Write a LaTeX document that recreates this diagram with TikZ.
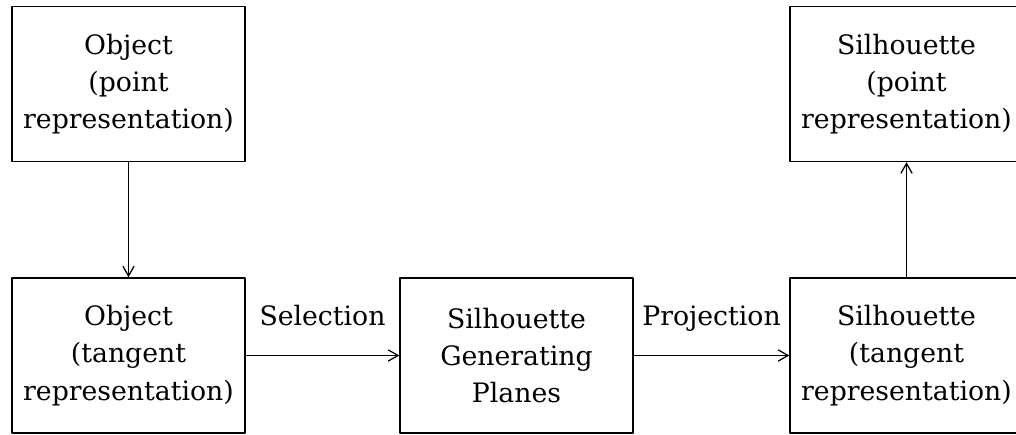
\documentclass[tikz,border=0pt]{standalone}
\usepackage{fontspec}
\setmainfont{DejaVu Serif}
\usetikzlibrary{arrows.meta}
\begin{document}
\begin{tikzpicture}[font=\fontsize{19}{26.5}\selectfont,line join=round,line cap=round,>={Straight Barb[length=7pt,width=8pt]},
	box/.style={draw,line width=1pt,minimum width=5.825cm,minimum height=3.875cm,inner sep=0pt,align=center},
	flow/.style={->,line width=0.9pt},
	lbl/.style={midway,anchor=base,yshift=0.74cm}]
	\useasboundingbox (0,0) rectangle (25.4,10.85);
	\def\xa{3.2125} \def\xb{12.9125} \def\xc{22.6625}
	\def\ytop{8.75} \def\ybot{1.9625}
	\node[box] (objpt) at (\xa,\ytop) {Object\\(point\\representation)};
	\node[box] (objtan) at (\xa,\ybot) {Object\\(tangent\\representation)};
	\node[box] (sgp) at (\xb,\ybot) {Silhouette\\Generating\\Planes};
	\node[box] (siltan) at (\xc,\ybot) {Silhouette\\(tangent\\representation)};
	\node[box] (silpt) at (\xc,\ytop) {Silhouette\\(point\\representation)};
	\draw[flow] (objpt) -- (objtan);
	\draw[flow] (objtan) -- node[lbl] {Selection} (sgp);
	\draw[flow] (sgp) -- node[lbl] {Projection} (siltan);
	\draw[flow] (siltan) -- (silpt);
\end{tikzpicture}
\end{document}
